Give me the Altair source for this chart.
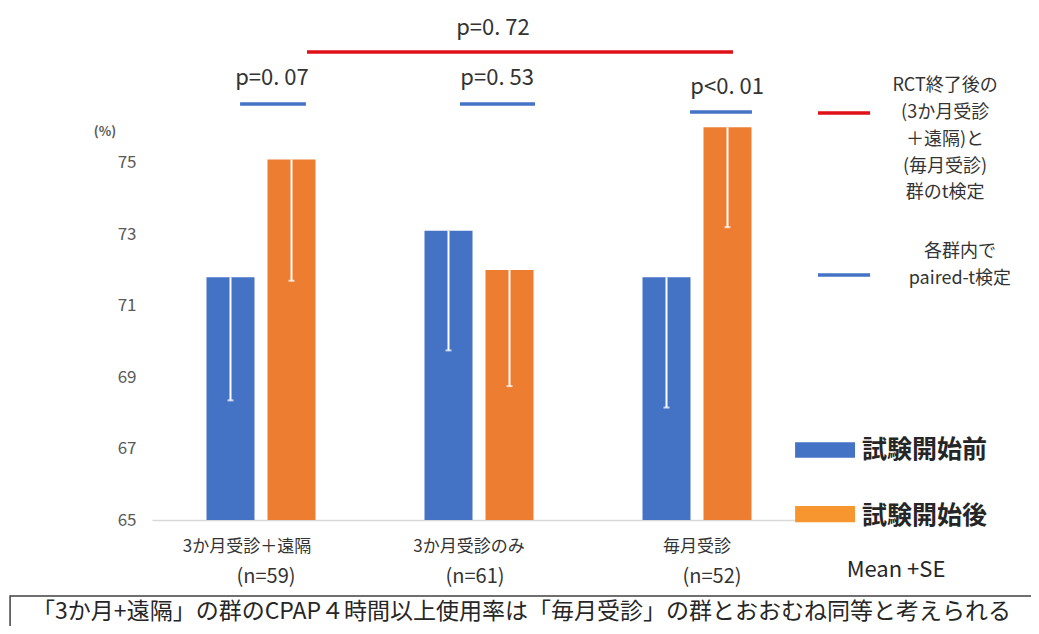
import altair as alt
import pandas as pd

# ---------------- data ----------------
groups = ["3か月受診＋遠隔", "3か月受診のみ", "毎月受診"]
n_labels = ["(n=59)", "(n=61)", "(n=52)"]
phases = ["試験開始前", "試験開始後"]
mean_before = [71.8, 73.1, 71.8]
mean_after = [75.1, 72.0, 76.0]
se_before = [3.45, 3.35, 3.65]
se_after = [3.4, 3.25, 2.8]
paired_p = ["p=0. 07", "p=0. 53", "p<0. 01"]
between_p = "p=0. 72"
y_ticks = [65, 67, 69, 71, 73, 75]
legend_red_text = ["RCT終了後の", "(3か月受診", "＋遠隔)と", "(毎月受診)", "群のt検定"]
legend_blue_text = ["各群内で", "paired-t検定"]
note_text = "「3か月+遠隔」の群のCPAP４時間以上使用率は「毎月受診」の群とおおむね同等と考えられる"
se_note = "Mean +SE"
unit_label = "(%)"

JP = "Noto Sans CJK JP"
NUM = "Liberation Sans Narrow, Noto Sans CJK JP"
TXT = "#333333"

rows = []
for g, mb, ma, sb, sa in zip(groups, mean_before, mean_after, se_before, se_after):
    rows.append({"group": g, "phase": phases[0], "mean": mb, "lower": mb - sb})
    rows.append({"group": g, "phase": phases[1], "mean": ma, "lower": ma - sa})
bars_df = pd.DataFrame(rows)

ys = alt.Scale(domain=[65, 79.2], nice=False, zero=False)
xs = alt.Scale(domain=[0, 3], nice=False, zero=False)

bscale = alt.Scale(paddingInner=0.5, paddingOuter=0.25)
bx = alt.X("group:N", sort=groups, scale=bscale,
           axis=alt.Axis(labels=False, ticks=False, title=None, grid=False,
                         domainColor="#D9D9D9", domainWidth=1.5))
bx_noaxis = alt.X("group:N", sort=groups, scale=bscale, axis=None)
bxo = alt.XOffset("phase:N", sort=phases, scale=alt.Scale(paddingInner=0.213, paddingOuter=0))

bars = alt.Chart(bars_df).mark_bar().encode(
    x=bx, xOffset=bxo,
    y=alt.Y("mean:Q", scale=ys,
            axis=alt.Axis(values=y_ticks, grid=False, domain=False, ticks=False,
                          labelPadding=16, labelFontSize=17, labelColor="#595959",
                          labelFont=JP, title=None)),
    y2=alt.Y2(datum=65),
    color=alt.Color("phase:N", scale=alt.Scale(domain=phases, range=["#4472C4", "#ED7D31"]), legend=None),
)
err = alt.Chart(bars_df).mark_rule(color="white", strokeWidth=2).encode(
    x=bx_noaxis, xOffset=bxo, y=alt.Y("mean:Q", scale=ys, axis=None), y2="lower:Q")
cap = alt.Chart(bars_df).mark_tick(color="white", thickness=2, size=6).encode(
    x=bx_noaxis, xOffset=bxo, y=alt.Y("lower:Q", scale=ys, axis=None))

# ---------------- annotations (layout in a 0..3 group-unit scale) ----------------
pair_lines = pd.DataFrame({"x": [0.404, 1.413, 2.468], "x2": [0.706, 1.757, 2.752],
                           "y": [76.65, 76.65, 76.43]})
pair_text = pd.DataFrame({"x": [0.55, 1.583, 2.638], "y": [77.38, 77.38, 77.13], "t": paired_p})
red_line = pd.DataFrame({"x": [0.711], "x2": [2.665], "y": [78.11]})
red_text = pd.DataFrame({"x": [1.564], "y": [78.78], "t": [between_p]})

def hrule(df, color, width=3.5):
    return alt.Chart(df).mark_rule(color=color, strokeWidth=width).encode(
        x=alt.X("x:Q", scale=xs, axis=None), x2="x2:Q",
        y=alt.Y("y:Q", scale=ys, axis=None))

def text(df, size, font=JP, align="center", color=TXT, weight="normal"):
    return alt.Chart(df).mark_text(fontSize=size, font=font, align=align, baseline="middle",
                                   color=color, fontWeight=weight).encode(
        x=alt.X("x:Q", scale=xs, axis=None),
        y=alt.Y("y:Q", scale=ys, axis=None), text="t:N")

# x category labels
cat1 = pd.DataFrame({"x": [0.436, 1.454, 2.50], "y": [64.24] * 3, "t": groups})
cat2 = pd.DataFrame({"x": [0.523, 1.482, 2.569], "y": [63.40] * 3, "t": n_labels})

# legend pieces
leg_lines = pd.DataFrame({"x": [3.055, 3.055], "x2": [3.294, 3.294], "y": [76.40, 71.86]})
leg_red_txt = pd.DataFrame({"x": [3.638] * 5, "y": [77.15, 76.40, 75.65, 74.90, 74.15], "t": legend_red_text})
leg_blue_txt = pd.DataFrame({"x": [3.706] * 2, "y": [72.52, 71.76], "t": legend_blue_text})
sw = pd.DataFrame({"x": [2.95, 2.95], "x2": [3.225, 3.225], "y": [67.18, 65.39], "y2": [66.74, 64.94],
                   "c": ["#4472C4", "#F7962F"]})
swatches = alt.Chart(sw).mark_rect().encode(
    x=alt.X("x:Q", scale=xs, axis=None), x2="x2:Q",
    y=alt.Y("y:Q", scale=ys, axis=None), y2="y2:Q",
    color=alt.Color("c:N", scale=None))
sw_txt = pd.DataFrame({"x": [3.257, 3.257], "y": [66.96, 65.11], "t": phases})
se_txt = pd.DataFrame({"x": [3.413], "y": [63.6], "t": [se_note]})
unit_txt = pd.DataFrame({"x": [-0.216], "y": [75.87], "t": [unit_label]})

box = alt.Chart(pd.DataFrame({"x": [-0.651], "x2": [4.3], "y": [62.87], "y2": [61.3]})).mark_rect(
    fill="white", fillOpacity=0, stroke="#404040", strokeWidth=1.5).encode(
    x=alt.X("x:Q", scale=xs, axis=None), x2="x2:Q",
    y=alt.Y("y:Q", scale=ys, axis=None), y2="y2:Q")
note_df = pd.DataFrame({"x": [-0.55], "y": [62.42], "t": [note_text]})

chart = alt.layer(
    bars, err, cap,
    hrule(pair_lines, "#4472C4"), hrule(red_line, "#E0101A"),
    text(pair_text, 22, font=NUM), text(red_text, 22, font=NUM),
    text(cat1, 17), text(cat2, 20, font=NUM),
    hrule(leg_lines.iloc[[0]], "#E0101A"), hrule(leg_lines.iloc[[1]], "#4472C4"),
    text(leg_red_txt, 18), text(leg_blue_txt, 18),
    swatches, text(sw_txt, 25, align="left", color="#262626", weight="bold"),
    text(se_txt, 22, font=NUM, color="#262626"),
    text(unit_txt, 13, color="#595959", weight="bold"),
    box, text(note_df, 23, align="left", color="#262626"),
).resolve_scale(x="independent").resolve_axis(y="independent").properties(
    width=654, height=507,
    autosize=alt.AutoSizeParams(type="none"),
    padding={"left": 144, "top": 5, "right": 225, "bottom": 106},
).configure_view(stroke=None)

chart.save("out.html", embed_options={"renderer": "svg", "actions": False})
